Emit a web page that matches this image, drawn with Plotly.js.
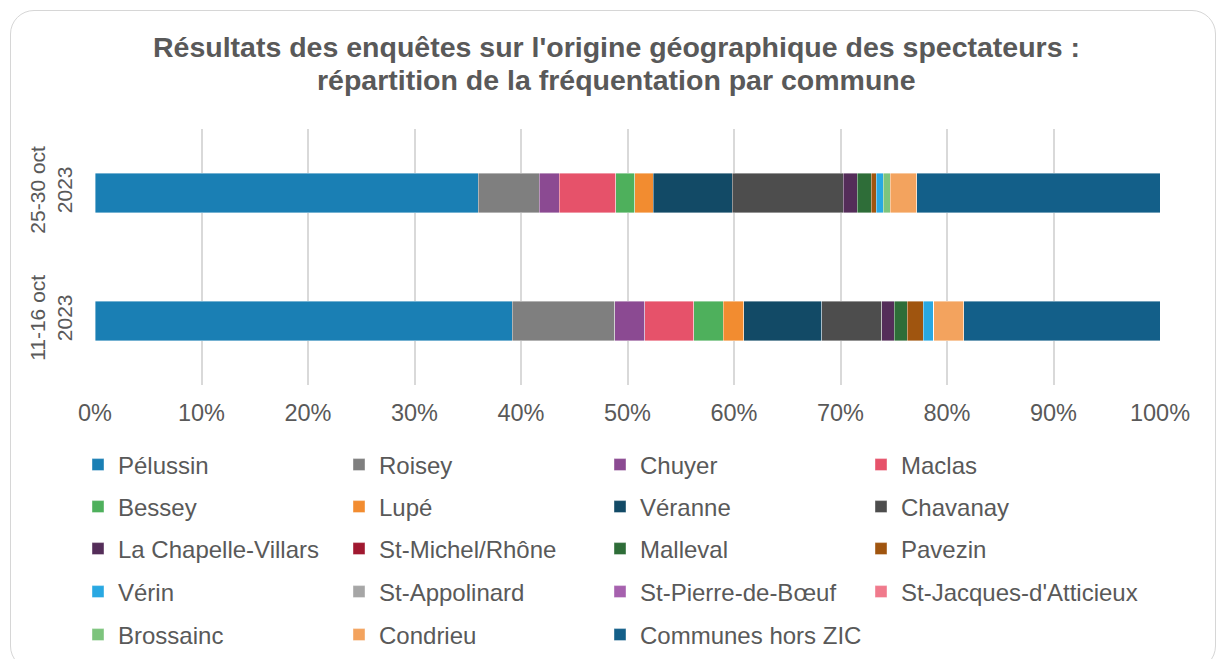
<!DOCTYPE html>
<html>
<head>
<meta charset="utf-8">
<script src="https://cdn.plot.ly/plotly-3.0.1.min.js"></script>
<style>
html,body{margin:0;padding:0;background:#fff;width:1219px;height:659px;overflow:hidden;}
#card{position:absolute;left:10px;top:10px;width:1206px;height:660px;border:1.5px solid #d6d6d6;border-radius:24px;box-sizing:border-box;}
#chart{position:absolute;left:0;top:0;width:1219px;height:659px;}
</style>
</head>
<body>
<div id="card"></div>
<div id="chart"></div>
<script>
const categories = ['11-16 oct<br>2023', '25-30 oct<br>2023'];
const communes = ['Pélussin','Roisey','Chuyer','Maclas','Bessey','Lupé','Véranne','Chavanay',
  'La Chapelle-Villars','St-Michel/Rhône','Malleval','Pavezin','Vérin','St-Appolinard',
  'St-Pierre-de-Bœuf',"St-Jacques-d'Atticieux",'Brossainc','Condrieu','Communes hors ZIC'];
const titleLines = ["Résultats des enquêtes sur l'origine géographique des spectateurs :",
  'répartition de la fréquentation par commune'];
// share of attendance (%) for [11-16 oct 2023, 25-30 oct 2023]
const pelussin   = [39.2, 36.0];
const roisey     = [9.6, 5.7];
const chuyer     = [2.8, 1.9];
const maclas     = [4.6, 5.3];
const bessey     = [2.8, 1.8];
const lupe       = [1.9, 1.7];
const veranne    = [7.35, 7.45];
const chavanay   = [5.6, 10.4];
const laChapelle = [1.2, 1.3];
const stMichel   = [0, 0];
const malleval   = [1.2, 1.35];
const pavezin    = [1.5, 0.45];
const verin      = [1.0, 0.65];
const stAppolinard = [0, 0];
const stPierre   = [0, 0];
const stJacques  = [0, 0];
const brossainc  = [0, 0.65];
const condrieu   = [2.8, 2.5];
const horsZIC    = [18.45, 22.85];
const colors = ['#1a7fb4','#7f7f7f','#8b4a92','#e6526a','#4eb05c','#f28c30','#124a66','#4d4d4d',
  '#542d59','#a01830','#2e6d38','#a0550f','#29a8e2','#a6a6a6','#a661ae','#f07a8c','#7dc47d','#f3a35e','#135f89'];
const series = [pelussin,roisey,chuyer,maclas,bessey,lupe,veranne,chavanay,laChapelle,stMichel,
  malleval,pavezin,verin,stAppolinard,stPierre,stJacques,brossainc,condrieu,horsZIC];

const FONT = 'Liberation Sans, Arial, sans-serif';
// legend rows of 4 entries; the long St-Jacques entry gets its own legend so it is not clipped
const legendOf = i => (i === 15 ? 'legend6' : ['legend','legend2','legend3','legend4','legend5'][Math.floor(i / 4)]);
const traces = series.map((vals, i) => ({
  type: 'bar', orientation: 'h', name: communes[i],
  y: categories, x: vals.map(v => v / 100),
  marker: {color: colors[i], line: {width: 0.8, color: 'rgba(255,255,255,0.5)'}},
  legend: legendOf(i),
  hovertemplate: '%{y}: %{x:.1%}<extra>' + communes[i] + '</extra>'
}));

const legendRowY = [465, 507, 549, 592, 635];
const legendColX = [120, 381, 642, 903];
const legendBase = {
  orientation: 'h', xref: 'container', yref: 'container', xanchor: 'left', yanchor: 'middle',
  entrywidth: 216, entrywidthmode: 'pixels', font: {family: FONT, size: 24, color: '#595959'},
  bgcolor: 'rgba(0,0,0,0)', itemclick: false, itemdoubleclick: false, traceorder: 'normal'
};
const titleY = [47, 80];
const layout = {
  width: 1219, height: 659,
  paper_bgcolor: 'rgba(0,0,0,0)', plot_bgcolor: 'rgba(0,0,0,0)',
  margin: {l: 95, r: 59, t: 129, b: 274},
  barmode: 'stack', bargap: 0.69,
  font: {family: FONT, color: '#595959'},
  annotations: titleLines.map((t, k) => ({
    text: '<b>' + t + '</b>', showarrow: false,
    xref: 'paper', yref: 'paper', x: (616 - 95) / 1065, y: (385 - titleY[k]) / 256,
    xanchor: 'center', yanchor: 'middle',
    font: {size: 28.5, color: '#595959', family: FONT}
  })),
  xaxis: {
    range: [0, 1], tickformat: '.0%', dtick: 0.1, tick0: 0,
    showgrid: true, gridcolor: '#d9d9d9', gridwidth: 2, zeroline: false, showline: false,
    ticks: '', ticklen: 0, ticklabelstandoff: 11, tickfont: {size: 23.5, color: '#595959'}, fixedrange: true
  },
  yaxis: {
    type: 'category', categoryorder: 'array', categoryarray: categories,
    tickangle: -90, tickfont: {size: 21, color: '#595959'}, showgrid: false, zeroline: false,
    showline: false, ticks: '', ticklen: 0, ticklabelstandoff: 18, fixedrange: true
  },
  showlegend: true
};
['legend','legend2','legend3','legend4','legend5'].forEach((id, k) => {
  layout[id] = Object.assign({}, legendBase, {x: (legendColX[0] - 42) / 1219, y: 1 - legendRowY[k] / 659});
});
layout.legend6 = Object.assign({}, legendBase, {entrywidth: 280, x: (legendColX[3] - 42) / 1219, y: 1 - legendRowY[3] / 659});

Plotly.newPlot('chart', traces, layout, {displayModeBar: false, staticPlot: true});
</script>
</body>
</html>
